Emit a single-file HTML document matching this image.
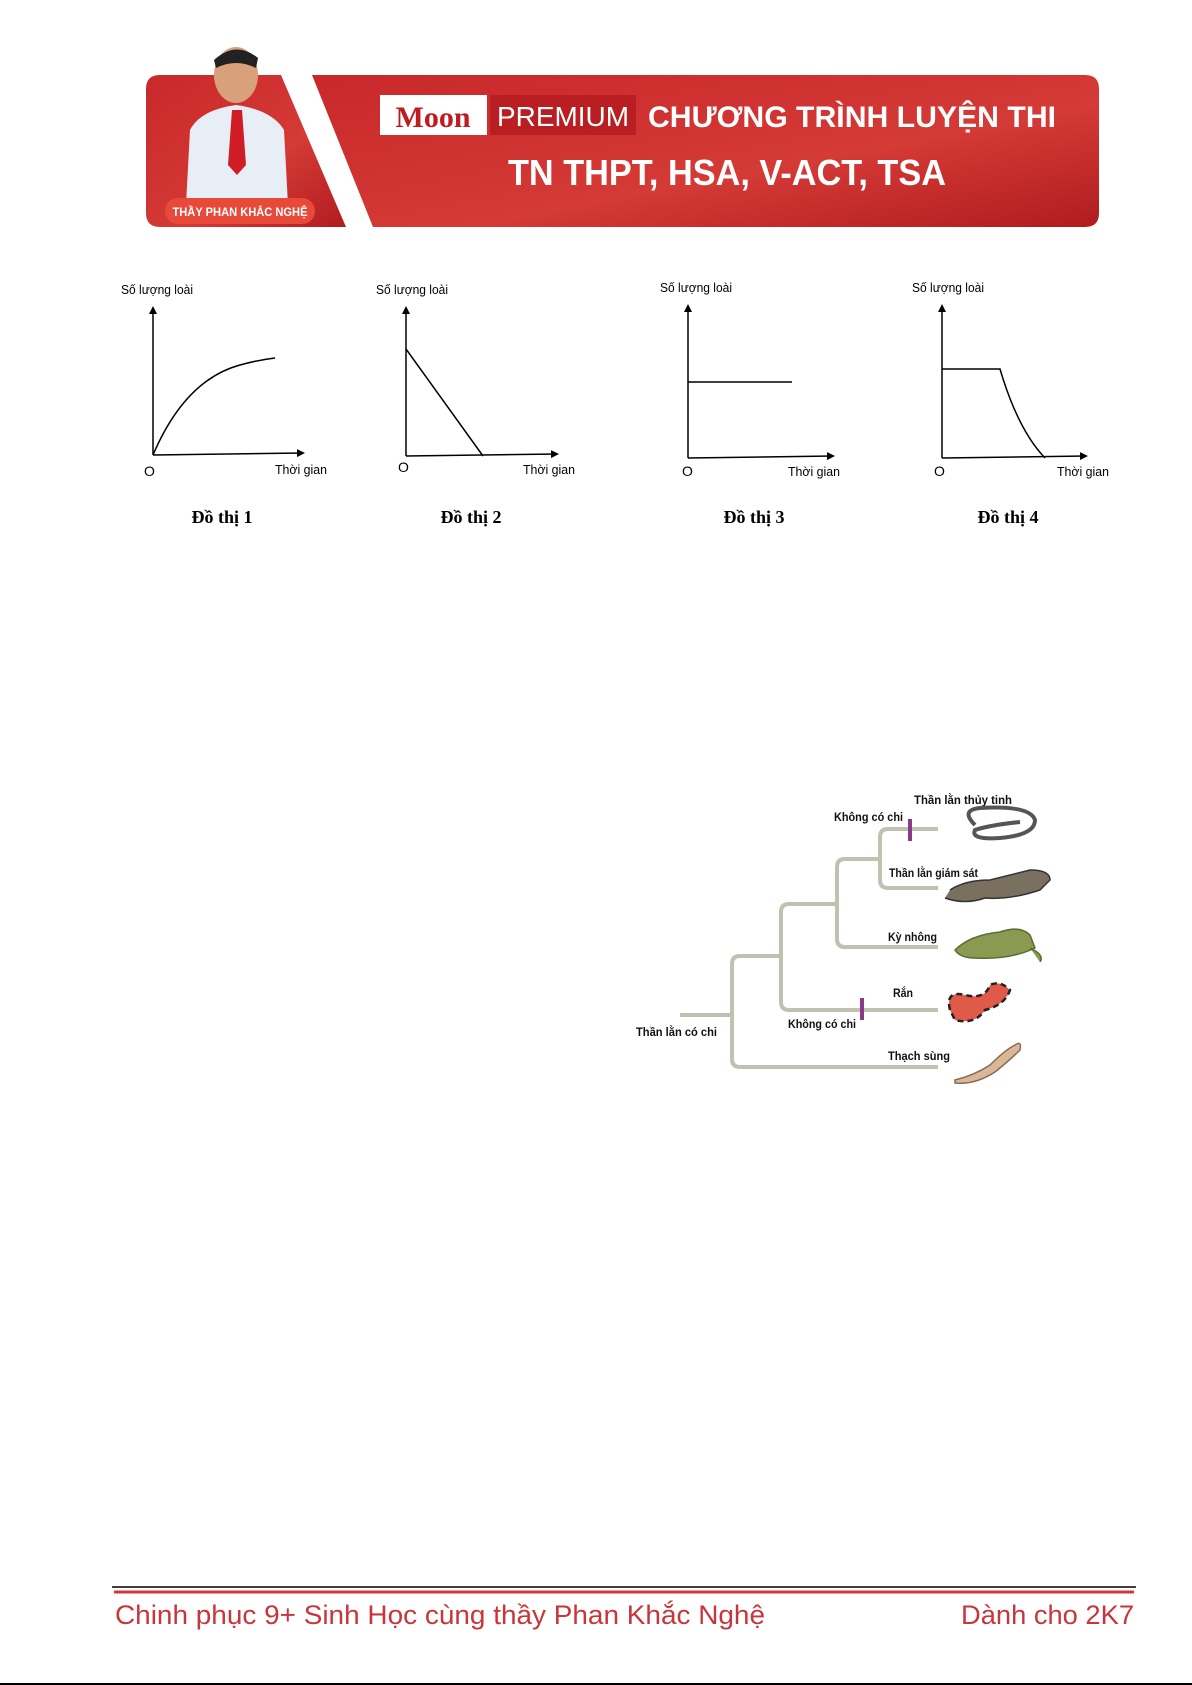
<!DOCTYPE html>
<html><head><meta charset="utf-8"><style>
html,body{margin:0;padding:0;background:#fff;}
svg{display:block;}
</style></head><body>
<svg width="1192" height="1685" viewBox="0 0 1192 1685" xmlns="http://www.w3.org/2000/svg" font-family="Liberation Sans, sans-serif">
<defs>
<linearGradient id="rg" x1="0" y1="0" x2="1" y2="1">
<stop offset="0" stop-color="#c8282a"/><stop offset="0.6" stop-color="#d43a36"/><stop offset="1" stop-color="#b01c1e"/>
</linearGradient>
<marker id="ar" markerWidth="8" markerHeight="8" refX="6" refY="4" orient="auto" markerUnits="userSpaceOnUse"><path d="M0,0 L8,4 L0,8 z" fill="#000"/></marker>
</defs>
<!-- banner -->
<path d="M160,75 H281 L346,227 H160 Q146,227 146,213 V89 Q146,75 160,75 Z" fill="url(#rg)"/>
<path d="M312,75 H1085 Q1099,75 1099,89 V213 Q1099,227 1085,227 H373 Z" fill="url(#rg)"/>
<!-- teacher -->
<ellipse cx="236" cy="75" rx="22" ry="28" fill="#d9a07c"/>
<path d="M214,60 Q236,40 258,58 L256,68 Q236,58 216,68 Z" fill="#222"/>
<path d="M186,205 L190,130 Q200,110 236,105 Q272,110 284,130 L288,205 Z" fill="#e8eef5"/>
<path d="M232,110 L242,110 L246,165 L237,175 L228,165 Z" fill="#d01c24"/>
<rect x="165" y="198" width="150" height="26" rx="13" fill="#e84a3a"/>
<text x="240" y="216" font-size="12" font-weight="bold" fill="#fff" text-anchor="middle" textLength="135" lengthAdjust="spacingAndGlyphs">THẦY PHAN KHẮC NGHỆ</text>
<rect x="380" y="95" width="107" height="40" fill="#fff"/>
<text x="433" y="127" font-size="30" font-weight="bold" fill="#c01c20" text-anchor="middle" font-family="Liberation Serif, serif">Moon</text>
<rect x="490" y="95" width="146" height="40" fill="#b81e22"/>
<text x="497" y="126" font-size="28" fill="#fff" textLength="132" lengthAdjust="spacingAndGlyphs">PREMIUM</text>
<text x="648" y="127" font-size="30" font-weight="bold" fill="#fff" textLength="408" lengthAdjust="spacingAndGlyphs">CHƯƠNG TRÌNH LUYỆN THI</text>
<text x="508" y="185" font-size="36" font-weight="bold" fill="#fff" textLength="438" lengthAdjust="spacingAndGlyphs">TN THPT, HSA, V-ACT, TSA</text>

<!-- graphs -->
<g stroke="#000" stroke-width="1.5" fill="none">
<line x1="153" y1="455" x2="153" y2="308" marker-end="url(#ar)"/>
<line x1="153" y1="455" x2="303" y2="453" marker-end="url(#ar)"/>
<path d="M153,455 Q185,380 240,365 Q258,360 275,358"/>
<line x1="406" y1="456" x2="406" y2="308" marker-end="url(#ar)"/>
<line x1="406" y1="456" x2="557" y2="454" marker-end="url(#ar)"/>
<path d="M406,349 L483,456"/>
<line x1="688" y1="458" x2="688" y2="306" marker-end="url(#ar)"/>
<line x1="688" y1="458" x2="833" y2="456" marker-end="url(#ar)"/>
<path d="M688,382 H792"/>
<line x1="942" y1="458" x2="942" y2="306" marker-end="url(#ar)"/>
<line x1="942" y1="458" x2="1086" y2="456" marker-end="url(#ar)"/>
<path d="M942,369 H1000 Q1018,430 1045,458"/>
</g>
<g font-size="13" fill="#000" font-family="Liberation Sans Narrow, Liberation Sans, sans-serif">
<text x="121" y="294" textLength="72" lengthAdjust="spacingAndGlyphs">Số lượng loài</text><text x="144" y="476" font-size="14">O</text><text x="275" y="474" textLength="52" lengthAdjust="spacingAndGlyphs">Thời gian</text>
<text x="376" y="294" textLength="72" lengthAdjust="spacingAndGlyphs">Số lượng loài</text><text x="398" y="472" font-size="14">O</text><text x="523" y="474" textLength="52" lengthAdjust="spacingAndGlyphs">Thời gian</text>
<text x="660" y="292" textLength="72" lengthAdjust="spacingAndGlyphs">Số lượng loài</text><text x="682" y="476" font-size="14">O</text><text x="788" y="476" textLength="52" lengthAdjust="spacingAndGlyphs">Thời gian</text>
<text x="912" y="292" textLength="72" lengthAdjust="spacingAndGlyphs">Số lượng loài</text><text x="934" y="476" font-size="14">O</text><text x="1057" y="476" textLength="52" lengthAdjust="spacingAndGlyphs">Thời gian</text>
</g>
<g font-family="Liberation Serif, serif" font-weight="bold" font-size="18" text-anchor="middle">
<text x="222" y="523">Đồ thị 1</text><text x="471" y="523">Đồ thị 2</text><text x="754" y="523">Đồ thị 3</text><text x="1008" y="523">Đồ thị 4</text>
</g>

<!-- tree -->
<g stroke="#c2c0b0" stroke-width="4" fill="none" stroke-linejoin="round">
<path d="M680,1015 H732"/>
<path d="M938,1067 H740 Q732,1067 732,1059 V964 Q732,956 740,956 H781"/>
<path d="M938,1010 H789 Q781,1010 781,1002 V912 Q781,904 789,904 H837"/>
<path d="M938,947 H845 Q837,947 837,939 V867 Q837,859 845,859 H880"/>
<path d="M938,829 H888 Q880,829 880,837 V880 Q880,888 888,888 H938"/>
</g>
<rect x="908" y="819" width="4" height="22" fill="#8b3a87"/>
<rect x="860" y="998" width="4" height="22" fill="#8b3a87"/>
<g font-size="12" font-weight="bold" fill="#111" font-family="Liberation Sans Narrow, Liberation Sans, sans-serif">
<text x="914" y="804" textLength="98" lengthAdjust="spacingAndGlyphs">Thần lằn thủy tinh</text>
<text x="834" y="821" textLength="69" lengthAdjust="spacingAndGlyphs">Không có chi</text>
<text x="889" y="877" textLength="89" lengthAdjust="spacingAndGlyphs">Thần lằn giám sát</text>
<text x="888" y="941" textLength="49" lengthAdjust="spacingAndGlyphs">Kỳ nhông</text>
<text x="893" y="997" textLength="20" lengthAdjust="spacingAndGlyphs">Rắn</text>
<text x="788" y="1028" textLength="68" lengthAdjust="spacingAndGlyphs">Không có chi</text>
<text x="636" y="1036" textLength="81" lengthAdjust="spacingAndGlyphs">Thần lằn có chi</text>
<text x="888" y="1060" textLength="62" lengthAdjust="spacingAndGlyphs">Thạch sùng</text>
</g>
<!-- animals -->
<path d="M975,825 Q960,810 980,808 Q1030,805 1035,820 Q1035,835 1000,838 Q970,840 975,830 Q990,825 1020,822" stroke="#555" stroke-width="4" fill="none"/>
<path d="M950,890 Q965,880 990,880 L1030,870 Q1050,870 1050,880 L1040,890 Q1010,900 985,898 Q965,905 945,898" fill="#7a7060" stroke="#333" stroke-width="1.5"/>
<path d="M955,950 Q970,935 1000,932 Q1020,925 1030,935 L1035,948 Q1010,960 975,958 Q960,958 955,950 Z M1030,948 Q1045,955 1040,962" fill="#8a9a50" stroke="#5a6a30" stroke-width="1.5"/>
<path d="M950,1010 Q945,990 965,995 Q985,1000 990,985 Q1000,980 1010,990 Q1005,1005 985,1010 Q975,1025 955,1020 Z" fill="#e05a4a" stroke="#222" stroke-width="2.5" stroke-dasharray="6 4"/>
<path d="M955,1080 Q975,1075 990,1065 Q1005,1050 1015,1045 Q1022,1040 1020,1050 Q1010,1060 995,1072 Q975,1085 955,1083 Z" fill="#d9b89a" stroke="#8a6a50" stroke-width="1.5"/>

<!-- footer -->
<line x1="112" y1="1587" x2="1136" y2="1587" stroke="#000" stroke-width="1.5"/>
<line x1="114" y1="1592" x2="1134" y2="1592" stroke="#d0393b" stroke-width="3"/>
<g fill="#c8353a" font-size="27">
<text x="115" y="1624" textLength="650" lengthAdjust="spacingAndGlyphs">Chinh phục 9+ Sinh Học cùng thầy Phan Khắc Nghệ</text>
<text x="961" y="1624" textLength="173" lengthAdjust="spacingAndGlyphs">Dành cho 2K7</text>
</g>
<line x1="0" y1="1684" x2="1192" y2="1684" stroke="#000" stroke-width="2"/>
</svg>
</body></html>
